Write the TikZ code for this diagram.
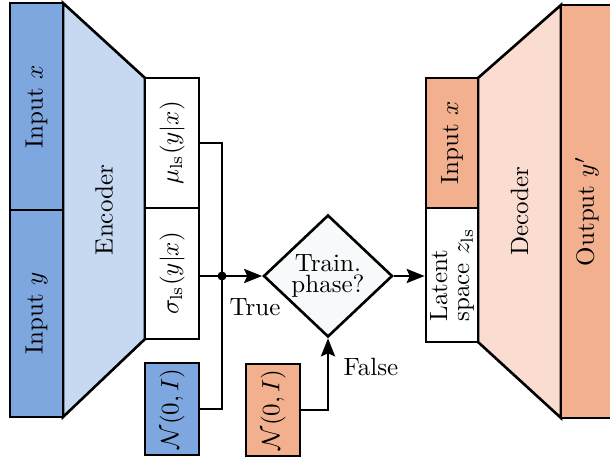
\documentclass[tikz,border=0pt]{standalone}
\usetikzlibrary{shapes.geometric,arrows.meta}
\definecolor{inblue}{RGB}{126,167,224}
\definecolor{encblue}{RGB}{198,217,241}
\definecolor{inorange}{RGB}{242,176,142}
\definecolor{decorange}{RGB}{250,221,208}
\definecolor{decfill}{RGB}{247,250,250}
\begin{document}
\begin{tikzpicture}[x=0.4pt,y=-0.4pt,line width=1.05pt,
  box/.style={draw,inner sep=0pt,minimum width=#1},
  box/.default=21.6pt,
  conn/.style={line width=1.05pt},
  arr/.style={conn,-{Stealth[length=7.2pt,width=5.6pt,inset=1.2pt]}},
  lbl/.style={inner sep=0pt}]
\useasboundingbox (0,0) rectangle (610,457);
\clip (0,0) rectangle (610,457);

% encoder and decoder bodies
\filldraw[fill=encblue] (63,3) -- (145,78) -- (145,339) -- (63,417) -- cycle;
\filldraw[fill=decorange] (478,78) -- (561,5) -- (561,418) -- (478,342) -- cycle;
\node[lbl] (enc) at (104,210) {\rotatebox{90}{Encoder}};
\node[lbl] (dec) at (519.5,211) {\rotatebox{90}{Decoder}};

% encoder inputs
\node[box=21.2pt,fill=inblue,minimum height=82.8pt] (inx) at (36.5,106.5) {\rotatebox{90}{Input $x$}};
\node[box=21.2pt,fill=inblue,minimum height=82.8pt] (iny) at (36.5,313.5) {\rotatebox{90}{Input $y$}};

% encoder outputs
\node[box,fill=white,minimum height=52pt] (mu) at (172,143) {\rotatebox{90}{$\mu_{\mathrm{ls}}(y|x)$}};
\node[box,fill=white,minimum height=52.4pt] (sigma) at (172,273.5) {\rotatebox{90}{$\sigma_{\mathrm{ls}}(y|x)$}};

% noise sources
\node[box,fill=inblue,minimum height=36.8pt] (nblue) at (172,409) {\rotatebox{90}{$\mathcal{N}(0,I)$}};
\node[box,fill=inorange,minimum height=36.8pt] (norange) at (273,410) {\rotatebox{90}{$\mathcal{N}(0,I)$}};

% decision
\node[draw,diamond,fill=decfill,inner sep=0pt,minimum width=51.6pt,minimum height=48.8pt,align=center] (train) at (328,276) {Train.\\[-3.5pt]phase?};

% decoder inputs and output
\node[box=20.8pt,fill=inorange,minimum height=52pt] (dinx) at (452,143) {\rotatebox{90}{Input $x$}};
\node[box=20.8pt,fill=white,minimum height=53.6pt] (latent) at (452,275)
  {\rotatebox{90}{\vbox{\baselineskip=8.8pt\hbox{Latent}\hbox{space $z_{\mathrm{ls}}$}}}};
\node[box=20.8pt,fill=inorange,minimum height=165.2pt] (out) at (587,211.5) {\rotatebox{90}{Output $y'$}};

% connectors
\coordinate (j) at (222,276);
\draw[conn] (mu.east) -| (j);
\draw[conn] (nblue.east) -| (j);
\draw[arr] (sigma.east |- j) -- (train.west);
\fill (j) circle (1.8pt);
\draw[arr] (norange.east) -| (train.south);
\draw[arr] (train.east) -- (latent.west |- train.east);

% branch labels
\node[lbl] (true) at (255,307) {True};
\node[lbl] (false) at (371,367) {False};
\end{tikzpicture}
\end{document}
